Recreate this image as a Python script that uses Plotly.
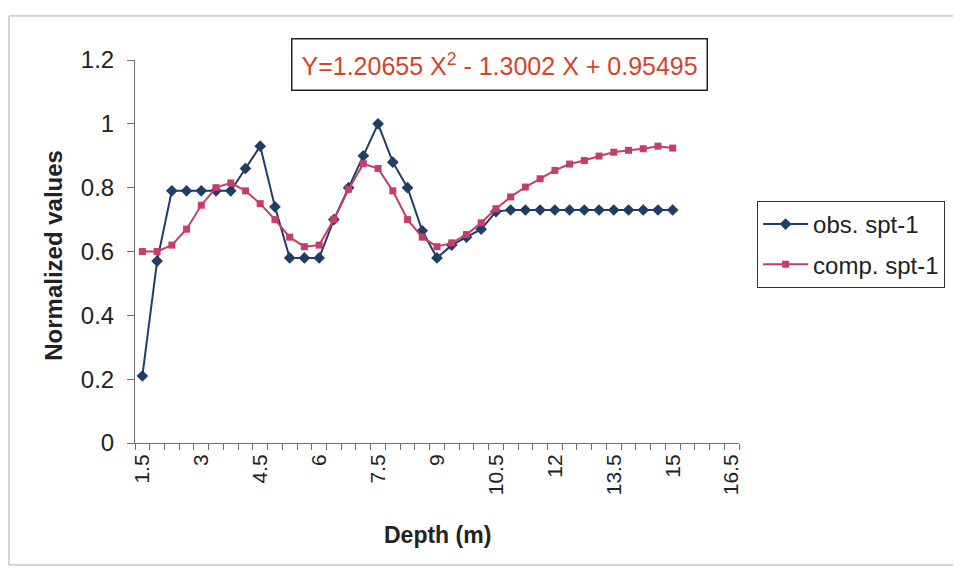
import plotly.graph_objects as go

depth_start = 1.5
depth_step = 0.375
obs_spt = [0.21, 0.57, 0.79, 0.79, 0.79, 0.79, 0.79, 0.86, 0.93, 0.74,
           0.58, 0.58, 0.58, 0.70, 0.80, 0.90, 1.00, 0.88, 0.80, 0.665,
           0.58, 0.62, 0.645, 0.67, 0.725, 0.73, 0.73, 0.73, 0.73, 0.73,
           0.73, 0.73, 0.73, 0.73, 0.73, 0.73, 0.73]
comp_spt = [0.60, 0.60, 0.62, 0.67, 0.745, 0.80, 0.815, 0.79, 0.75, 0.70,
            0.645, 0.615, 0.62, 0.70, 0.795, 0.875, 0.86, 0.79, 0.70, 0.645,
            0.615, 0.627, 0.653, 0.69, 0.734, 0.771, 0.802, 0.828, 0.854, 0.874,
            0.885, 0.899, 0.911, 0.917, 0.922, 0.930, 0.924]
depth = [depth_start + depth_step * i for i in range(len(obs_spt))]
x_tick_vals = [1.5, 3, 4.5, 6, 7.5, 9, 10.5, 12, 13.5, 15, 16.5]
x_tick_text = ["1.5", "3", "4.5", "6", "7.5", "9", "10.5", "12", "13.5", "15", "16.5"]
equation = "Y=1.20655 X<sup>2</sup> - 1.3002 X + 0.95495"

navy = "#1f3d66"
pink = "#c63c6d"
axis_col = "#6e6e6e"
font_family = "Liberation Sans, Arial, sans-serif"

fig = go.Figure()
fig.add_trace(go.Scatter(
    x=depth, y=obs_spt, mode="lines+markers", name="obs. spt-1",
    legendgroup="obs",
    line=dict(color=navy, width=2),
    marker=dict(symbol="diamond", size=9, color=navy),
))
fig.add_trace(go.Scatter(
    x=depth, y=comp_spt, mode="lines+markers", name="comp. spt-1",
    legendgroup="comp",
    line=dict(color=pink, width=2),
    marker=dict(symbol="square", size=7, color=pink),
))

fig.update_layout(
    width=953, height=570,
    margin=dict(l=127, r=222, t=52, b=135),
    paper_bgcolor="white", plot_bgcolor="white",
    font=dict(family=font_family, color="#222"),
    showlegend=True,
    legend=dict(
        x=1.03, y=0.632, xanchor="left", yanchor="top",
        bordercolor="#333", borderwidth=1, bgcolor="white",
        font=dict(size=24, color="#222"),
        tracegroupgap=6, itemwidth=45,
    ),
    xaxis=dict(
        range=[depth_start - depth_step / 2, 16.5 + depth_step / 2],
        tickmode="array", tickvals=x_tick_vals, ticktext=x_tick_text,
        tickangle=-90, ticks="", showgrid=False, zeroline=False,
        showline=True, linecolor=axis_col, linewidth=1,
        tickfont=dict(size=21, color="#222"),
        ticklabelstandoff=2,
        minor=dict(tickmode="linear", tick0=depth_start - depth_step / 2, dtick=depth_step,
                   ticks="outside", ticklen=6, tickcolor=axis_col, showgrid=False),
    ),
    yaxis=dict(
        range=[0, 1.2], dtick=0.2, tick0=0,
        ticks="outside", ticklen=7, tickcolor=axis_col,
        showgrid=False, zeroline=False,
        showline=True, linecolor=axis_col, linewidth=1,
        tickfont=dict(size=24, color="#222"),
        ticklabelstandoff=8,
    ),
)

fig.add_annotation(
    x=0.5, xref="x domain", y=-0.24, yref="y domain",
    xanchor="center", yanchor="middle",
    text="<b>Depth (m)</b>", showarrow=False,
    font=dict(size=23, color="#222"),
)
fig.add_annotation(
    x=-0.135, xref="x domain", y=0.49, yref="y domain",
    xanchor="center", yanchor="middle", textangle=-90,
    text="<b>Normalized values</b>", showarrow=False,
    font=dict(size=24, color="#222"),
)
fig.add_annotation(
    x=0.604, xref="x domain", y=0.987, yref="y domain",
    xanchor="center", yanchor="middle",
    text=equation, showarrow=False,
    font=dict(size=25, color="#d2452c"),
    bordercolor="#222", borderwidth=1.5, borderpad=9, bgcolor="white",
)
fig.add_shape(
    type="rect", xref="paper", yref="paper",
    x0=-0.2086, x1=1.366, y0=-0.3185, y1=1.115,
    line=dict(color="#aaaaaa", width=1), layer="below",
)

fig.write_html("out.html")
